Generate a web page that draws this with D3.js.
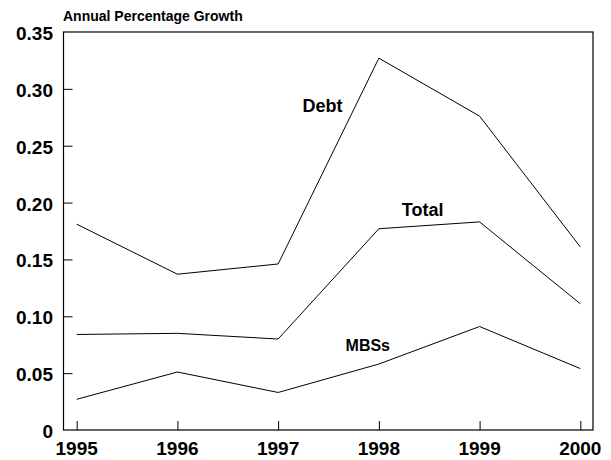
<!DOCTYPE html>
<html><head><meta charset="utf-8">
<script src="https://cdn.jsdelivr.net/npm/d3@7"></script>
<style>body{margin:0;background:#fff}text{font-family:"Liberation Sans",Arial,sans-serif;font-weight:bold;fill:#000}</style>
</head><body><svg id="c" width="611" height="460"></svg>
<script>
const years = [1995, 1996, 1997, 1998, 1999, 2000];
const debt  = [0.181, 0.137, 0.146, 0.327, 0.276, 0.161];
const total = [0.084, 0.085, 0.080, 0.177, 0.183, 0.111];
const mbss  = [0.027, 0.051, 0.033, 0.058, 0.091, 0.054];
const yTicks = [0, 0.05, 0.10, 0.15, 0.20, 0.25, 0.30, 0.35];
const yTickLabels = ["0", "0.05", "0.10", "0.15", "0.20", "0.25", "0.30", "0.35"];
const seriesNames = ["Debt", "Total", "MBSs"];
const labelAt = [[1997.44, 0.280], [1998.435, 0.188], [1997.89, 0.0697]];
const labelSize = [18, 18, 16];

const svg = d3.select("#c");
const L = 63.5, R = 593, T = 32, B = 430;
const x = d3.scaleLinear().domain([1995, 2000]).range([76.7, 580.3]);
const y = d3.scaleLinear().domain([0, 0.35]).range([B, T]);

svg.append("rect").attr("x", L).attr("y", T).attr("width", R - L).attr("height", B - T)
  .attr("fill", "none").attr("stroke", "#000").attr("stroke-width", 1.2);

const yAxis = svg.append("g").attr("transform", `translate(${L},0)`)
  .call(d3.axisRight(y).tickValues(yTicks.slice(1, 7)).tickSize(9).tickFormat(""));
yAxis.select(".domain").remove();
yAxis.selectAll("line").attr("stroke", "#000");

const xAxis = svg.append("g").attr("transform", `translate(0,${B})`)
  .call(d3.axisTop(x).tickValues(years).tickSize(9).tickFormat(""));
xAxis.select(".domain").remove();
xAxis.selectAll("line").attr("stroke", "#000");

svg.selectAll(".yl").data(yTicks).enter().append("text")
  .attr("x", 53).attr("y", d => y(d) + 8).attr("text-anchor", "end")
  .style("font-size", "19px").text((d, i) => yTickLabels[i]);

svg.selectAll(".xl").data(years).enter().append("text")
  .attr("x", d => x(d)).attr("y", 455).attr("text-anchor", "middle")
  .style("font-size", "19px").text(d => d);

svg.append("text").attr("x", 63).attr("y", 21).style("font-size", "14px").text("Annual Percentage Growth");

const line = d3.line().x((d, i) => x(years[i])).y(d => y(d));
[debt, total, mbss].forEach(s => {
  svg.append("path").attr("d", line(s)).attr("fill", "none").attr("stroke", "#000").attr("stroke-width", 1);
});

seriesNames.forEach((n, i) => {
  svg.append("text").attr("x", x(labelAt[i][0])).attr("y", y(labelAt[i][1])).attr("text-anchor", "middle")
    .style("font-size", labelSize[i] + "px").text(n);
});
</script></body></html>
